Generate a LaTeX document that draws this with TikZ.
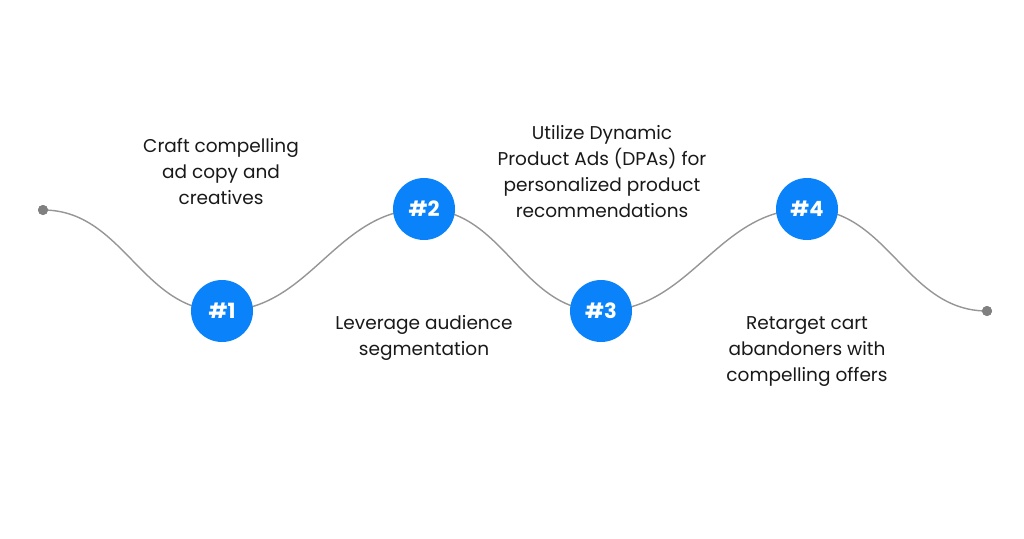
\documentclass[tikz,border=0pt]{standalone}
\usepackage{fontspec}
\setmainfont{Poppins}
\definecolor{stepblue}{RGB}{10,130,250}
\definecolor{wavegray}{RGB}{150,150,150}
\definecolor{dotgray}{RGB}{128,128,128}
\definecolor{txt}{RGB}{25,25,25}
\begin{document}
\begin{tikzpicture}[x=1pt,y=-1pt,
  stepcircle/.style={circle,fill=stepblue,minimum size=62pt,inner sep=0pt,text=white,font=\fontsize{21}{24}\selectfont\bfseries},
  enddot/.style={circle,fill=dotgray,minimum size=10pt,inner sep=0pt},
  wave/.style={draw=wavegray,line width=1.4pt},
  label/.style={align=center,text=txt,font=\fontsize{18.5}{26}\selectfont}]
\useasboundingbox (0,0) rectangle (1024,538);
\fill[white] (0,0) rectangle (1024,538);
\node[enddot] (s) at (43,210) {};
\node[enddot] (e) at (987,311) {};
\coordinate (c1) at (222,311);
\coordinate (c2) at (424,209);
\coordinate (c3) at (601,311);
\coordinate (c4) at (807,209);
\draw[wave] (s.center) to[out=0,in=180] (c1) to[out=0,in=180] (c2) to[out=0,in=180] (c3) to[out=0,in=180] (c4) to[out=0,in=180] (e.center);
\node[enddot] at (s) {};
\node[enddot] at (e) {};
\node[stepcircle] (n1) at (c1) {\#1};
\node[stepcircle] (n2) at (c2) {\#2};
\node[stepcircle] (n3) at (c3) {\#3};
\node[stepcircle] (n4) at (c4) {\#4};
\node[label] (t1) at (221,172) {Craft compelling\\ad copy and\\creatives};
\node[label] (t2) at (424,338) {Leverage audience\\segmentation};
\node[label] (t3) at (602,172) {Utilize Dynamic\\Product Ads (DPAs) for\\personalized product\\recommendations};
\node[label] (t4) at (807,352) {Retarget cart\\abandoners with\\compelling offers};
\end{tikzpicture}
\end{document}
